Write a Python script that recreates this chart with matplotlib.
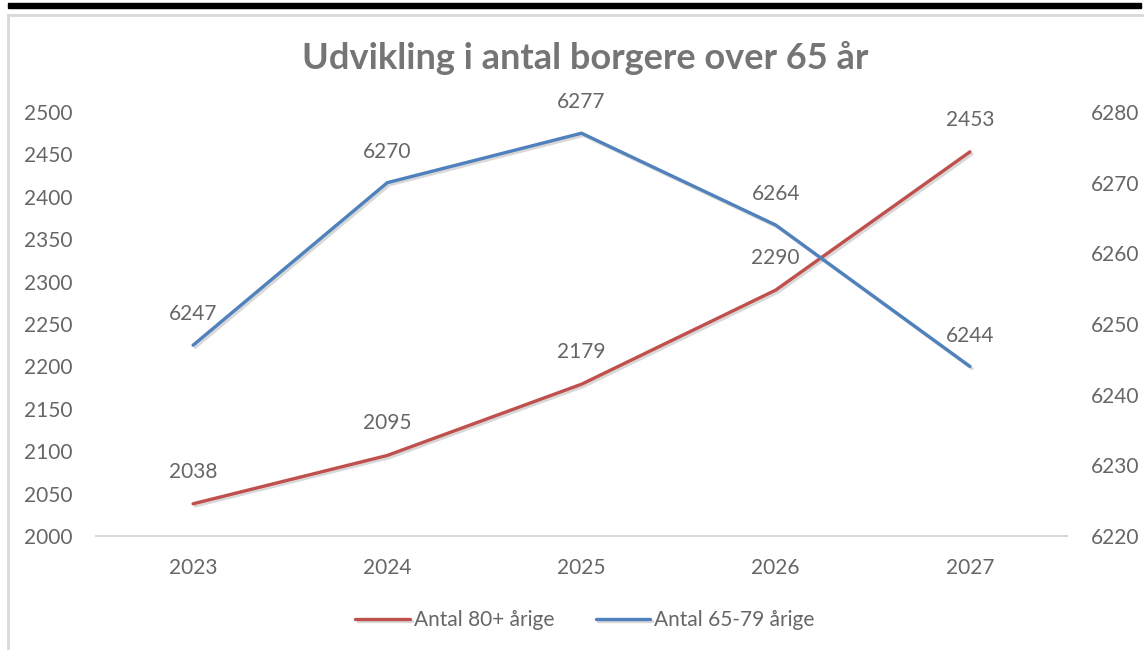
import matplotlib.pyplot as plt
import matplotlib.patheffects as pe
from matplotlib.lines import Line2D
from matplotlib.patches import Rectangle

years = ["2023", "2024", "2025", "2026", "2027"]
antal_80 = [2038, 2095, 2179, 2290, 2453]
antal_65_79 = [6247, 6270, 6277, 6264, 6244]
left_ticks = [2000, 2050, 2100, 2150, 2200, 2250, 2300, 2350, 2400, 2450, 2500]
right_ticks = [6220, 6230, 6240, 6250, 6260, 6270, 6280]

plt.rcParams['font.family'] = ['Lato', 'DejaVu Sans']
W, H = 1144, 650
fig = plt.figure(figsize=(W / 100, H / 100), dpi=100)
GRAY = '#666666'
TGRAY = '#757575'
RED = '#C0504D'
BLUE = '#4F81BD'

# frame decorations
fig.patches.append(Rectangle((8 / W, 1 - 8 / H), 1133 / W, 5 / H, transform=fig.transFigure,
                             color='black', zorder=0))
fig.add_artist(Line2D([8 / W, 8 / W], [0, 1 - 15 / H], transform=fig.transFigure, color='#D9D9D9', lw=2))
fig.add_artist(Line2D([8 / W, 1], [1 - 15 / H, 1 - 15 / H], transform=fig.transFigure, color='#D9D9D9', lw=2))

x0, x1 = 96, 1067
ytop, ybot = 112, 536
ax = fig.add_axes([x0 / W, 1 - ybot / H, (x1 - x0) / W, (ybot - ytop) / H])
ax2 = ax.twinx()

xs = list(range(len(years)))
shadow = [pe.SimpleLineShadow(offset=(1.5, -1.5), shadow_color='gray', alpha=0.3), pe.Normal()]
l1, = ax.plot(xs, antal_80, color=RED, lw=2.4, solid_capstyle='round', path_effects=shadow,
              label='Antal 80+ årige')
l2, = ax2.plot(xs, antal_65_79, color=BLUE, lw=2.4, solid_capstyle='round', path_effects=shadow,
               label='Antal 65-79 årige')

ax.set_xlim(-0.5, len(years) - 0.5)
ax.set_ylim(left_ticks[0], left_ticks[-1])
ax2.set_ylim(right_ticks[0], right_ticks[-1])
ax.set_xticks(xs)
ax.set_xticklabels(years)
ax.set_yticks(left_ticks)
ax2.set_yticks(right_ticks)

for a in (ax, ax2):
    for s in a.spines.values():
        s.set_visible(False)
    a.tick_params(length=0, labelsize=15, colors=GRAY)
ax.spines['bottom'].set_visible(True)
ax.spines['bottom'].set_color('#D9D9D9')
ax.spines['bottom'].set_linewidth(1.5)
ax.tick_params(axis='x', pad=16)
ax.tick_params(axis='y', pad=17)
ax2.tick_params(axis='y', pad=17)

for x, v in zip(xs, antal_80):
    ax.annotate(str(v), (x, v), xytext=(0, 16), textcoords='offset points', ha='center', va='bottom',
                fontsize=15, color=GRAY)
for x, v in zip(xs, antal_65_79):
    ax2.annotate(str(v), (x, v), xytext=(0, 15), textcoords='offset points', ha='center', va='bottom',
                 fontsize=15, color=GRAY)

fig.text(585 / W, 1 - 58 / H, 'Udvikling i antal borgere over 65 år', ha='center', va='center',
         fontsize=26, fontweight='bold', color=TGRAY)

fig.legend(handles=[l1, l2], loc='center', bbox_to_anchor=(585 / W, 1 - 620 / H), ncol=2, frameon=False,
           fontsize=15, labelcolor=GRAY, handlelength=2.6, handletextpad=0.2, columnspacing=2.0)

fig.savefig('out.png', dpi=100, facecolor='white')
